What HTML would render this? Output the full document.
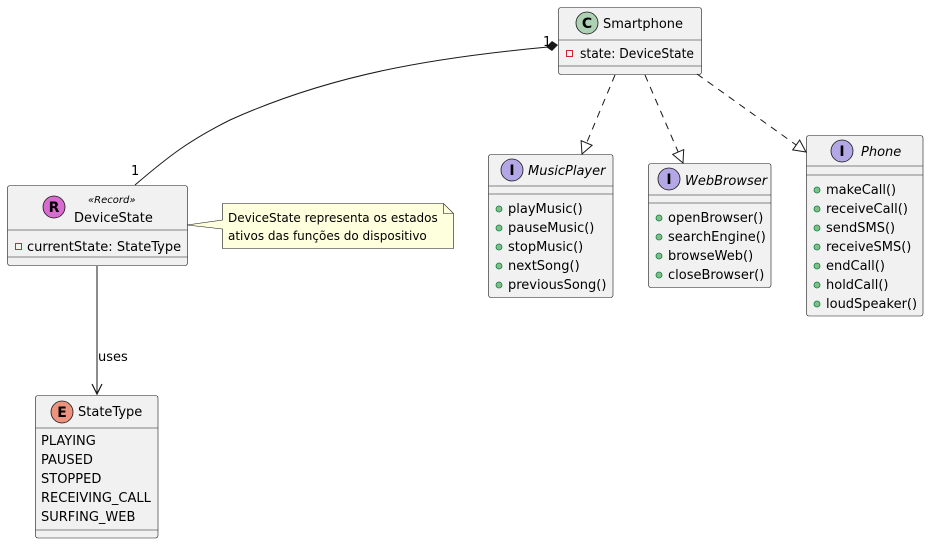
<!DOCTYPE html>
<html><head><meta charset="utf-8"><style>
html,body{margin:0;padding:0;background:#fff}
svg text{font-family:"DejaVu Sans","Liberation Sans",sans-serif;fill:#000}
</style></head><body>
<svg width="929" height="544" viewBox="0 0 929 544" xmlns="http://www.w3.org/2000/svg">
<g fill="#F1F1F1" stroke="#181818" stroke-width="0.6">
<rect x="558.5" y="7.5" width="143" height="67" rx="2.5"/>
<line x1="558.5" y1="40" x2="701.5" y2="40"/><line x1="558.5" y1="66" x2="701.5" y2="66"/>
<rect x="488.5" y="154.5" width="124.5" height="143" rx="2.5"/>
<line x1="488.5" y1="186" x2="613" y2="186"/><line x1="488.5" y1="194" x2="613" y2="194"/>
<rect x="648.5" y="163.5" width="122.5" height="124" rx="2.5"/>
<line x1="648.5" y1="195" x2="771" y2="195"/><line x1="648.5" y1="203" x2="771" y2="203"/>
<rect x="806.5" y="135.5" width="116.5" height="180.5" rx="2.5"/>
<line x1="806.5" y1="166" x2="923" y2="166"/><line x1="806.5" y1="175" x2="923" y2="175"/>
<rect x="7.5" y="185.5" width="180" height="80" rx="2.5"/>
<line x1="7.5" y1="230" x2="187.5" y2="230"/><line x1="7.5" y1="257" x2="187.5" y2="257"/>
<rect x="35.5" y="395.5" width="122.5" height="142.5" rx="2.5"/>
<line x1="35.5" y1="428" x2="158" y2="428"/><line x1="35.5" y1="530" x2="158" y2="530"/>
</g>
<path d="M222.5 203.5 H443.5 L453.5 213.5 V248.5 H222.5 V229 L187 225 L222.5 220 Z" fill="#FEFFDD" stroke="#181818" stroke-width="0.6"/>
<path d="M443.5 203.5 V213.5 H453.5" fill="none" stroke="#181818" stroke-width="0.6"/>
<path d="M135 185 C170 155 190 140 230 120 C330 75 430 58 548 47" fill="none" stroke="#181818" stroke-width="1"/>
<polygon points="558,45 552,41 546,47 552,51" fill="#181818"/>
<text x="543" y="46" font-size="13">1</text>
<text x="131" y="175" font-size="13">1</text>
<g stroke="#181818" stroke-width="1" fill="none" stroke-dasharray="7,6">
<line x1="615" y1="75" x2="586.6" y2="143"/>
<line x1="645" y1="75" x2="678.2" y2="152"/>
<line x1="697" y1="74" x2="796.2" y2="145"/>
</g>
<g stroke="#181818" stroke-width="1" fill="#fff">
<polygon points="582,154 592.1,145.3 581.1,140.7"/>
<polygon points="683,163 672.7,154.4 683.7,149.6"/>
<polygon points="806,152 792.7,149.9 799.7,140.1"/>
</g>
<line x1="97" y1="266" x2="97" y2="394" stroke="#181818" stroke-width="1"/>
<path d="M92 384 L97 394 L102 384" fill="none" stroke="#181818" stroke-width="1.2"/>
<text x="98" y="361" font-size="13">uses</text>
<g stroke="#181818" stroke-width="0.8">
<circle cx="587" cy="23" r="11" fill="#ADD1B2"/>
<circle cx="512" cy="170" r="11" fill="#B4A7E5"/>
<circle cx="669" cy="179" r="11" fill="#B4A7E5"/>
<circle cx="842" cy="151" r="11" fill="#B4A7E5"/>
<circle cx="54" cy="207" r="11" fill="#D86BCF"/>
<circle cx="62" cy="412" r="11" fill="#EB937F"/>
</g>
<g font-size="14" font-weight="bold" text-anchor="middle">
<text x="587" y="28">C</text><text x="512" y="175">I</text><text x="669" y="184">I</text>
<text x="842" y="156">I</text><text x="54" y="212">R</text><text x="62" y="417">E</text>
</g>
<g font-size="13">
<text x="603" y="28">Smartphone</text>
<text x="528" y="175" font-style="italic">MusicPlayer</text>
<text x="685" y="185" font-style="italic">WebBrowser</text>
<text x="861" y="156" font-style="italic">Phone</text>
<text x="74" y="222">DeviceState</text>
<text x="88" y="203" font-size="10" font-style="italic">«Record»</text>
<text x="78" y="416">StateType</text>
<text x="228" y="222" font-size="12">DeviceState representa os estados</text>
<text x="228" y="240" font-size="12">ativos das funções do dispositivo</text>
<text x="580" y="58" textLength="114" lengthAdjust="spacingAndGlyphs">state: DeviceState</text>
<text x="27" y="251">currentState: StateType</text>
<text x="41" y="445">PLAYING</text><text x="41" y="464">PAUSED</text><text x="41" y="483">STOPPED</text>
<text x="41" y="502">RECEIVING_CALL</text><text x="41" y="521">SURFING_WEB</text>
<text x="508" y="213">playMusic()</text><text x="508" y="232">pauseMusic()</text><text x="508" y="251">stopMusic()</text>
<text x="508" y="270">nextSong()</text><text x="508" y="289">previousSong()</text>
<text x="668" y="222">openBrowser()</text><text x="668" y="241">searchEngine()</text>
<text x="668" y="260">browseWeb()</text><text x="668" y="279">closeBrowser()</text>
<text x="826" y="194">makeCall()</text><text x="826" y="213">receiveCall()</text><text x="826" y="232">sendSMS()</text>
<text x="826" y="251">receiveSMS()</text><text x="826" y="270">endCall()</text><text x="826" y="289">holdCall()</text>
<text x="826" y="308">loudSpeaker()</text>
</g>
<g fill="none" stroke="#C82930" stroke-width="1">
<rect x="566.5" y="50.5" width="6" height="6"/><rect x="15.5" y="243.5" width="6" height="6"/>
</g>
<g fill="#84BE84" stroke="#038048" stroke-width="0.8">
<circle cx="499" cy="209" r="3"/><circle cx="499" cy="228" r="3"/><circle cx="499" cy="247" r="3"/><circle cx="499" cy="266" r="3"/><circle cx="499" cy="285" r="3"/>
<circle cx="659" cy="218" r="3"/><circle cx="659" cy="237" r="3"/><circle cx="659" cy="256" r="3"/><circle cx="659" cy="275" r="3"/>
<circle cx="817" cy="190" r="3"/><circle cx="817" cy="209" r="3"/><circle cx="817" cy="228" r="3"/><circle cx="817" cy="247" r="3"/><circle cx="817" cy="266" r="3"/><circle cx="817" cy="285" r="3"/><circle cx="817" cy="304" r="3"/>
</g>
</svg>
</body></html>
